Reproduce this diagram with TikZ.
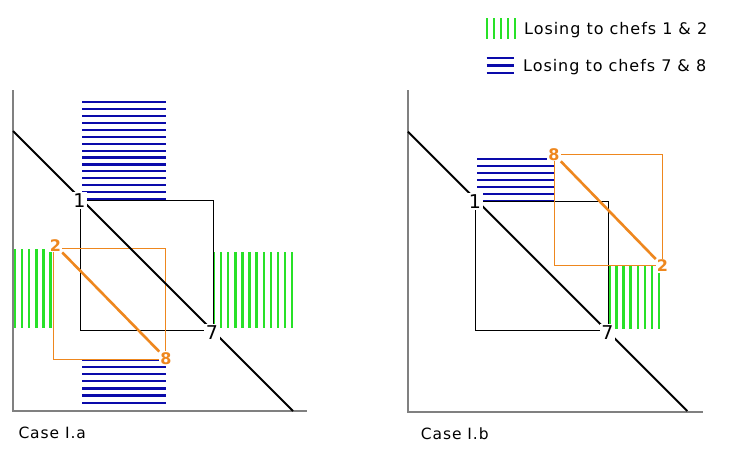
\documentclass[tikz,border=0pt]{standalone}
\usepackage{fontspec}
\setmainfont{DejaVu Sans}
\newfontfamily\capfont{DejaVu Sans}[LetterSpace=6]
\usetikzlibrary{positioning}

\definecolor{hatchblue}{RGB}{10,10,170}
\definecolor{hatchgreen}{RGB}{40,225,40}
\definecolor{chefor}{RGB}{238,135,30}
\definecolor{axisgray}{RGB}{128,128,128}

\begin{document}
\begin{tikzpicture}[x=1pt,y=-1pt,
        axis line/.style={axisgray,line width=2pt},
        box line/.style={black,line width=0.9pt},
        diag line/.style={black,line width=2pt},
        orange box/.style={chefor,line width=0.9pt},
        orange diag/.style={chefor,line width=2.6pt},
        blue hatch/.style={hatchblue,line width=2.2pt},
        green hatch/.style={hatchgreen,line width=2.4pt},
        chef label/.style={fill=white,inner sep=1.5pt,font=\fontsize{19}{19}\selectfont},
        orange label/.style={fill=white,inner sep=1pt,text=chefor,font=\fontsize{16}{16}\selectfont\bfseries},
        caption/.style={anchor=west,inner sep=0pt,font=\capfont\fontsize{15.5}{18}\selectfont},
        legend text/.style={anchor=west,inner sep=0pt,font=\capfont\fontsize{16}{18}\selectfont}]

    \useasboundingbox (0,0) rectangle (736,456);

    % legend
    \foreach \x in {486.7,493.7,...,515} \draw[green hatch] (\x,18.3) -- (\x,39.3);
    \foreach \y in {58.3,65.5,72.7} \draw[blue hatch] (486.7,\y) -- (514,\y);
    \coordinate (greenkey) at (515,30);
    \coordinate (bluekey) at (514,66.7);
    \node[legend text] (losegreen) [right=9pt of greenkey] {Losing to chefs 1 \& 2};
    \node[legend text] (loseblue) [right=9pt of bluekey] {Losing to chefs 7 \& 8};

    % case I.a
    \draw[axis line] (13,90) -- (13,411) -- (307,411);
    \foreach \y in {102.3,109.2,...,200} \draw[blue hatch] (82,\y) -- (165.5,\y);
    \foreach \y in {360,367.1,...,404} \draw[blue hatch] (82,\y) -- (165.5,\y);
    \foreach \x in {15,22.1,...,52} \draw[green hatch] (\x,249) -- (\x,328);
    \foreach \x in {214,221.1,...,293} \draw[green hatch] (\x,252) -- (\x,328);
    \draw[box line] (80,200) rectangle (213,330);
    \draw[orange box] (53.5,248) rectangle (165.5,359);
    \coordinate (adiagA) at (13,131);
    \coordinate (adiagB) at (293,411);
    \draw[diag line] (adiagA) -- (adiagB);
    \node[chef label] (a1) at (79.5,200.5) {1};
    \node[chef label] (a7) at (212,332.5) {7};
    \node[orange label] (a2) at (55.5,245.5) {2};
    \node[orange label] (a8) at (166,358.5) {8};
    \draw[orange diag] (a2) -- (a8);
    \node[caption] (casea) at (18.3,433.3) {Case I.a};

    % case I.b
    \draw[axis line] (408,90) -- (408,411.5) -- (703,411.5);
    \foreach \y in {159,165.95,...,202} \draw[blue hatch] (477.3,\y) -- (554,\y);
    \foreach \x in {609.3,616.4,...,661} \draw[green hatch] (\x,265.7) -- (\x,329.3);
    \draw[box line] (475.7,201.7) rectangle (608.3,330);
    \draw[orange box] (554,154.3) rectangle (662.3,265);
    \coordinate (bdiagA) at (408,131.7);
    \coordinate (bdiagB) at (687.3,411);
    \draw[diag line] (bdiagA) -- (bdiagB);
    \node[chef label] (b1) at (475,201.5) {1};
    \node[chef label] (b7) at (607.5,332.5) {7};
    \node[orange label] (b8) at (554,154.3) {8};
    \node[orange label] (b2) at (662.5,266) {2};
    \draw[orange diag] (b8) -- (b2);
    \node[caption] (caseb) at (420.7,434) {Case I.b};
\end{tikzpicture}
\end{document}
